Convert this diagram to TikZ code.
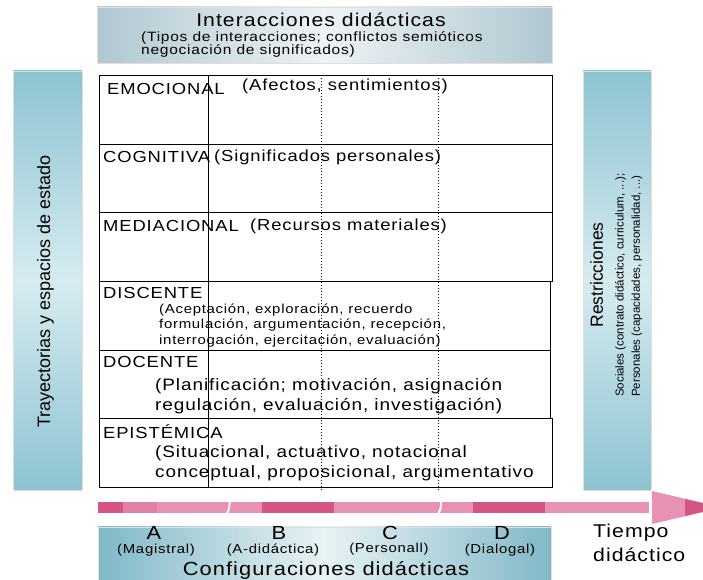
\documentclass[tikz,border=0pt]{standalone}
\usepackage{fontspec}
\setmainfont{Liberation Sans}[LetterSpace=5.5, FakeStretch=1.15]
\newfontfamily\rotfont{Liberation Sans}

\definecolor{topgray}{RGB}{176,199,209}
\definecolor{toplight}{RGB}{238,243,245}
\definecolor{barteal}{RGB}{140,195,209}
\definecolor{barlight}{RGB}{214,235,240}
\definecolor{botteal}{RGB}{128,184,199}
\definecolor{botlight}{RGB}{232,242,244}
\definecolor{pinkdark}{RGB}{212,84,132}
\definecolor{pinkmid}{RGB}{224,128,165}
\definecolor{pinklight}{RGB}{231,145,179}

\tikzset{
  panel/.style={inner sep=0pt, outer sep=0pt, draw=gray!25, line width=0.8pt},
  rowbox/.style={draw, line width=0.8pt, anchor=north west, inner sep=0pt, minimum width=453pt},
  rowlbl/.style={anchor=west, inner sep=0pt, font=\fontsize{16}{18}\selectfont},
  rowsub/.style={anchor=west, align=left, inner sep=0pt, font=\fontsize{16.5}{20}\selectfont},
  sidelbl/.style={rotate=90, inner sep=0pt},
  conflbl/.style={anchor=base, inner sep=0pt, font=\fontsize{19}{20}\selectfont},
  confsub/.style={anchor=base, inner sep=0pt, font=\fontsize{13}{15}\selectfont},
  dashline/.style={dash pattern=on 1.5pt off 1.5pt, line width=0.6pt},
}

\begin{document}
\begin{tikzpicture}[x=1pt,y=1pt]
			
			\useasboundingbox (0,0) rectangle (703,580);
			\clip (0,0) rectangle (703,580);
			\fill[white] (0,0) rectangle (703,580);
			
			% paneles de fondo
			\node[panel, left color=topgray, right color=topgray, middle color=toplight, minimum width=455pt, minimum height=56pt] (inter) at (324.5,545) {};
			\node[panel, top color=barteal, bottom color=barteal, middle color=barlight, minimum width=69pt, minimum height=419pt] (tray) at (47.5,299.5) {};
			\node[panel, top color=barteal, bottom color=barteal, middle color=barlight, minimum width=68pt, minimum height=419pt] (restr) at (617,299.5) {};
			\node[panel, left color=botteal, right color=botteal, middle color=botlight, minimum width=453pt, minimum height=56pt] (config) at (324.5,25) {};
			
			\node[anchor=base, inner sep=0pt, font=\fontsize{18.5}{20}\selectfont] (intertit) at (321,553.5) {Interacciones didácticas};
			\node[anchor=base west, inner sep=0pt, font=\fontsize{13.5}{15}\selectfont] (intersub) at (141,538.5) {(Tipos de interacciones; conflictos semióticos};
			\node[anchor=base west, inner sep=0pt, font=\fontsize{13.5}{15}\selectfont] (intersubb) at (141,525) {negociación de significados)};
			
			\node[sidelbl, font=\rotfont\fontsize{18}{20}\selectfont] (traylbl) at (45.5,288.5) {Trayectorias y espacios de estado};
			\node[sidelbl, font=\rotfont\fontsize{17.5}{20}\selectfont] (restrlbl) at (596.5,305) {Restricciones};
			\node[sidelbl, anchor=west, font=\rotfont\fontsize{11.5}{14}\selectfont] (soclbl) at (620.5,183) {Sociales (contrato didáctico, curriculum, ...);};
			\node[sidelbl, anchor=west, font=\rotfont\fontsize{11.5}{14}\selectfont] (perslbl) at (637,183) {Personales (capacidades, personalidad, ...)};
			
			% filas
			\node[rowbox, minimum height=69pt] (emocional) at (99,505) {};
			\node[rowbox, minimum height=68pt] (cognitiva) at (99,436) {};
			\node[rowbox, minimum height=69pt] (mediacional) at (99,368) {};
			\node[rowbox, minimum height=69pt, minimum width=451pt] (discente) at (99,299) {};
			\node[rowbox, minimum height=68pt, minimum width=451pt] (docente) at (99,230) {};
			\node[rowbox, minimum height=69pt] (epistemica) at (99,162) {};
			
			\draw[line width=0.7pt] (208,505) -- (208,93);
			\foreach \cx in {321.5,438}
				\draw[dashline] (\cx,505) -- (\cx,88);
			
			\node[rowlbl] (emolbl) at (107,491) {EMOCIONAL};
			\node[rowlbl] (emotxt) at (242,494) {(Afectos, sentimientos)};
			\node[rowlbl] (coglbl) at (103,423) {COGNITIVA};
			\node[rowlbl] (cogtxt) at (214,423) {(Significados personales)};
			\node[rowlbl] (medlbl) at (103,354) {MEDIACIONAL};
			\node[rowlbl] (medtxt) at (250,354) {(Recursos materiales)};
			\node[rowlbl] (dislbl) at (103,287) {DISCENTE};
			\node[rowsub, font=\fontsize{13}{15.5}\selectfont] (distxt) at (159,254.5) {(Aceptación, exploración, recuerdo\\formulación, argumentación, recepción,\\interrogación, ejercitación, evaluación)};
			\node[rowlbl] (doclbl) at (103,218) {DOCENTE};
			\node[rowsub] (doctxt) at (155,184) {(Planificación; motivación, asignación\\regulación, evaluación, investigación)};
			\node[rowlbl] (epilbl) at (103,148) {EPISTÉMICA};
			\node[rowsub] (epitxt) at (155,117) {(Situacional, actuativo, notacional\\conceptual, proposicional, argumentativo};
			
			% flecha del tiempo
			\fill[pinklight] (98,66.5) rectangle (649,78);
			\fill[pinkmid] (123,66.5) rectangle (157,78);
			\foreach \xa/\xb in {98/123, 262/334, 473/545}
				\fill[pinkdark] (\xa,66.5) rectangle (\xb,78);
			\foreach \gx in {228,439.5}
				\draw[white, line width=2pt] (\gx-2,65) .. controls (\gx+1,70) .. (\gx+2,80);
			\fill[pinklight] (652,89) -- (722,72.5) -- (652,56) -- cycle;
			\fill[pinkdark] (685,81) -- (722,72.5) -- (685,64) -- cycle;
			
			\node[anchor=base west, inner sep=0pt, font=\fontsize{18.5}{20}\selectfont] (tiempo) at (593,42) {Tiempo};
			\node[anchor=base west, inner sep=0pt, font=\fontsize{18.5}{20}\selectfont] (didac) at ([yshift=-24pt]tiempo.base west) {didáctico};
			
			% configuraciones
			\node[conflbl] (ca) at (154,40.5) {A};
			\node[conflbl] (cb) at (279,40.5) {B};
			\node[conflbl] (cc) at (390,40) {C};
			\node[conflbl] (cd) at (502,40.5) {D};
			\node[confsub] (cam) at (156,26.5) {(Magistral)};
			\node[confsub] (cbm) at (273,26.5) {(A-didáctica)};
			\node[confsub] (ccm) at (389,27) {(Personall)};
			\node[confsub] (cdm) at (500,26.5) {(Dialogal)};
			\node[anchor=base, inner sep=0pt, font=\fontsize{19}{20}\selectfont] (conftit) at (326,5) {Configuraciones didácticas};
			
\end{tikzpicture}
\end{document}
